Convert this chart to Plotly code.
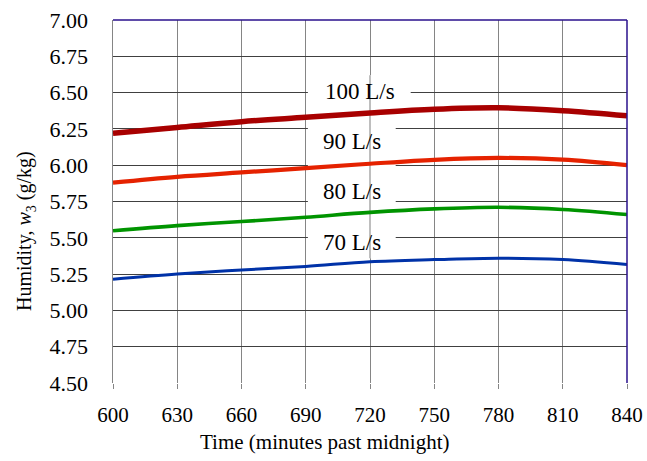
import plotly.graph_objects as go

time_min = [600, 630, 660, 690, 720, 750, 780, 810, 840]
w3_100 = [6.22, 6.26, 6.30, 6.33, 6.36, 6.385, 6.395, 6.375, 6.34]
w3_90 = [5.88, 5.92, 5.95, 5.98, 6.01, 6.037, 6.05, 6.038, 6.00]
w3_80 = [5.548, 5.584, 5.612, 5.642, 5.675, 5.699, 5.71, 5.695, 5.66]
w3_70 = [5.214, 5.25, 5.278, 5.303, 5.335, 5.35, 5.36, 5.35, 5.316]

series_names = ["100 L/s", "90 L/s", "80 L/s", "70 L/s"]
series_vals = [w3_100, w3_90, w3_80, w3_70]
series_colors = ["#A80000", "#E52200", "#009400", "#0032A8"]
series_widths = [5.5, 4.2, 3.6, 3.0]

x_ticks = [600, 630, 660, 690, 720, 750, 780, 810, 840]
y_ticks = [4.50, 4.75, 5.00, 5.25, 5.50, 5.75, 6.00, 6.25, 6.50, 6.75, 7.00]

FONT = "Liberation Serif, Times New Roman, serif"

fig = go.Figure()
for name, vals, col, w in zip(series_names, series_vals, series_colors, series_widths):
    fig.add_trace(go.Scatter(x=time_min, y=vals, mode="lines", name=name,
                             line=dict(color=col, width=w, shape="spline", smoothing=1.0),
                             showlegend=False, hoverinfo="skip"))

# white box behind labels (between grid and traces)
fig.add_shape(type="rect", x0=691, x1=732, y0=5.36, y1=6.62, layer="between",
              fillcolor="white", line=dict(width=0))
fig.add_shape(type="rect", x0=731, x1=739, y0=6.40, y1=6.62, layer="between",
              fillcolor="white", line=dict(width=0))
fig.add_shape(type="line", x0=720, x1=720, y0=5.36, y1=6.62, layer="between",
              line=dict(color="#A8A8A8", width=1.5))

label_y = [6.51, 6.16, 5.822, 5.465]
label_x = [715.5, 711.5, 711.5, 711.5]
for name, lx, ly in zip(series_names, label_x, label_y):
    fig.add_annotation(x=lx, y=ly, xref="x", yref="y", text=name, showarrow=False,
                       font=dict(family=FONT, size=23, color="black"))

# top & right border (navy)
fig.add_shape(type="line", xref="paper", yref="paper", x0=0, x1=1, y0=1, y1=1,
              line=dict(color="#2A108C", width=1.5), layer="above")
fig.add_shape(type="line", xref="paper", yref="paper", x0=1, x1=1, y0=0, y1=1,
              line=dict(color="#2A108C", width=1.5), layer="above")

fig.add_annotation(xref="paper", yref="paper", x=0.412, y=-0.162, yanchor="middle",
                   text="Time (minutes past midnight)", showarrow=False,
                   font=dict(family=FONT, size=21, color="black"))
fig.add_annotation(xref="paper", yref="paper", x=-0.198, y=0.418, textangle=-90,
                   text="Humidity, <i>w</i><sub>3</sub> (g/kg)", showarrow=False,
                   font=dict(family=FONT, size=20, color="black"))

fig.update_layout(
    width=647, height=461,
    margin=dict(l=113, r=20, t=20, b=78, autoexpand=False),
    paper_bgcolor="white", plot_bgcolor="white",
    font=dict(family=FONT, size=21, color="black"),
)
fig.update_xaxes(range=[600, 840], tickvals=x_ticks, ticktext=[str(v) for v in x_ticks],
                 showgrid=True, gridcolor="#858585", gridwidth=1,
                 ticks="outside", ticklen=5, tickcolor="#858585", tickwidth=1,
                 showline=True, linecolor="white", linewidth=1,
                 zeroline=False, ticklabelstandoff=8, automargin=False,
                 tickfont=dict(family=FONT, size=21))
fig.update_yaxes(range=[4.5, 7.0], tickvals=y_ticks,
                 ticktext=[f"{v:.2f}\u2005" for v in y_ticks],
                 showgrid=True, gridcolor="#404040", gridwidth=1,
                 ticks="outside", ticklen=14, tickcolor="rgba(0,0,0,0)",
                 showline=True, linecolor="#858585", linewidth=1,
                 zeroline=False, automargin=False,
                 tickfont=dict(family=FONT, size=22))

fig.write_html("out.html", config={"displayModeBar": False},
               post_script="document.body.style.margin='0px';document.body.style.overflow='hidden';")
